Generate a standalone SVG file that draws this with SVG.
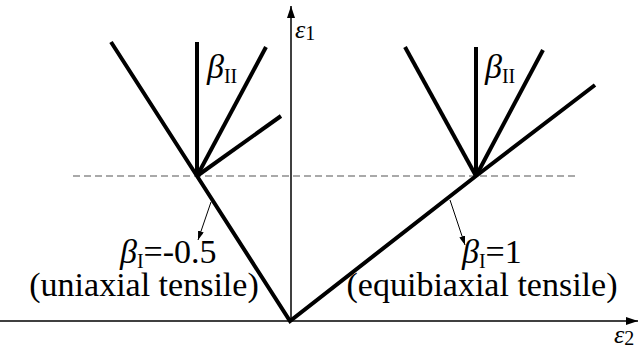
<svg xmlns="http://www.w3.org/2000/svg" width="640" height="350" viewBox="0 0 640 350">
<defs>
<marker id="axh" viewBox="0 0 12 8" refX="12" refY="4" markerWidth="12" markerHeight="8" markerUnits="userSpaceOnUse" orient="auto"><path d="M0,0 L12,4 L0,8 Z" fill="#000"/></marker>
<marker id="sah" viewBox="0 0 9 6" refX="9" refY="3" markerWidth="9" markerHeight="6" markerUnits="userSpaceOnUse" orient="auto"><path d="M0,0 L9,3 L0,6 Z" fill="#000"/></marker>
</defs>
<style>
.ax{stroke:#000;stroke-width:1.5;fill:none}
.th{stroke:#000;stroke-width:4;fill:none;stroke-linecap:butt}
.da{stroke:#555;stroke-width:1.2;stroke-dasharray:7 4;fill:none}
.sm{stroke:#000;stroke-width:1;fill:none}
.g{font-style:italic}
.s{font-size:20px;font-style:normal}
</style>
<rect width="640" height="350" fill="#fff"/>
<g id="connectors">
<line class="da" x1="73" y1="176" x2="577" y2="176"/>
<line class="ax" x1="291" y1="322" x2="291" y2="6" marker-end="url(#axh)"/>
<line class="ax" x1="0" y1="321" x2="638" y2="321" marker-end="url(#axh)"/>
<polyline class="th" points="111,42 197,176 290,321 476,176 595,85"/>
<line class="th" x1="197" y1="176" x2="197" y2="42"/>
<line class="th" x1="197" y1="176" x2="266" y2="47"/>
<line class="th" x1="197" y1="176" x2="281" y2="116"/>
<line class="th" x1="476" y1="176" x2="405" y2="47"/>
<line class="th" x1="476" y1="176" x2="476" y2="47"/>
<line class="th" x1="476" y1="176" x2="543" y2="50"/>
<line class="sm" x1="211" y1="202" x2="198" y2="240" marker-end="url(#sah)"/>
<line class="sm" x1="450" y1="200" x2="465" y2="245" marker-end="url(#sah)"/>
</g>
<g font-family="Liberation Serif, Times New Roman, serif" fill="#000">
<g id="axis-e1"><text x="295" y="38" font-size="26"><tspan class="g">ε</tspan><tspan class="s" dy="2">1</tspan></text></g>
<g id="axis-e2"><text x="614" y="343" font-size="26"><tspan class="g">ε</tspan><tspan class="s" dy="2">2</tspan></text></g>
<g id="beta2-left"><text x="207" y="78" font-size="34"><tspan class="g">β</tspan><tspan class="s" dy="5">II</tspan></text></g>
<g id="beta2-right"><text x="485" y="78" font-size="34"><tspan class="g">β</tspan><tspan class="s" dy="5">II</tspan></text></g>
<g id="label-left"><text x="120" y="263" font-size="34"><tspan class="g">β</tspan><tspan class="s" dy="5">I</tspan><tspan dy="-5">=-0.5</tspan></text><text x="144" y="296" font-size="34" text-anchor="middle">(uniaxial tensile)</text></g>
<g id="label-right"><text x="462" y="263" font-size="34"><tspan class="g">β</tspan><tspan class="s" dy="5">I</tspan><tspan dy="-5">=1</tspan></text><text x="482" y="296" font-size="34" text-anchor="middle">(equibiaxial tensile)</text></g>
</g>
</svg>
